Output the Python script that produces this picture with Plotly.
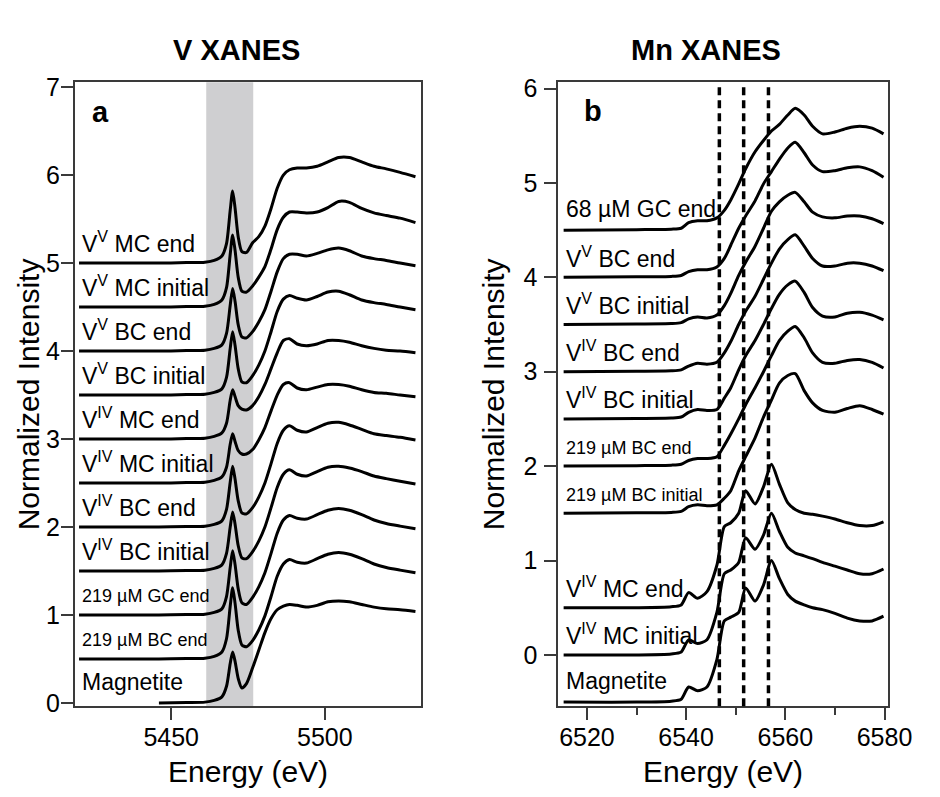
import plotly.graph_objects as go

# ---------------- Panel a : V XANES ----------------
energy_a = [5420, 5446, 5455, 5461, 5464, 5466.5, 5468, 5469.2, 5470, 5470.8, 5471.8,
            5473, 5474.5, 5476.5, 5478.5, 5480.5, 5482.5, 5484.5, 5486.5, 5488.5, 5491,
            5494, 5497.5, 5501, 5504.5, 5508, 5512, 5516, 5520, 5524.5, 5529.5]

labels_a = ["V<sup>V</sup> MC end", "V<sup>V</sup> MC initial", "V<sup>V</sup> BC end",
            "V<sup>V</sup> BC initial", "V<sup>IV</sup> MC end", "V<sup>IV</sup> MC initial",
            "V<sup>IV</sup> BC end", "V<sup>IV</sup> BC initial", "219 µM GC end",
            "219 µM BC end", "Magnetite"]
offsets_a = [5.0, 4.5, 4.0, 3.5, 3.0, 2.5, 2.0, 1.5, 1.0, 0.5, 0.0]
small_a = [False, False, False, False, False, False, False, False, True, True, False]

vv_mc_end = [0, 0, 0.005, 0.01, 0.03, 0.08, 0.22, 0.60, 0.82, 0.62, 0.30, 0.13, 0.12, 0.23, 0.30,
             0.42, 0.62, 0.85, 1.00, 1.06, 1.08, 1.08, 1.10, 1.15, 1.20, 1.20, 1.15, 1.10, 1.07, 1.03, 0.98]
vv_mc_initial = [0, 0, 0.005, 0.01, 0.03, 0.08, 0.22, 0.60, 0.82, 0.64, 0.34, 0.18, 0.17, 0.24, 0.34,
                 0.46, 0.66, 0.88, 1.02, 1.08, 1.08, 1.07, 1.08, 1.13, 1.20, 1.19, 1.12, 1.07, 1.04, 1.01, 0.96]
vv_bc_end = [0, 0, 0.005, 0.01, 0.03, 0.07, 0.20, 0.52, 0.71, 0.56, 0.30, 0.16, 0.15, 0.22, 0.33,
             0.47, 0.68, 0.90, 1.05, 1.10, 1.10, 1.08, 1.11, 1.15, 1.17, 1.14, 1.08, 1.05, 1.03, 1.00, 0.97]
vv_bc_initial = [0, 0, 0.005, 0.01, 0.03, 0.07, 0.20, 0.53, 0.72, 0.56, 0.30, 0.15, 0.14, 0.22, 0.34,
                 0.50, 0.72, 0.95, 1.09, 1.13, 1.10, 1.08, 1.12, 1.17, 1.18, 1.14, 1.08, 1.05, 1.03, 1.00, 0.97]
viv_mc_end = [0, 0, 0.005, 0.01, 0.03, 0.07, 0.18, 0.44, 0.56, 0.48, 0.38, 0.34, 0.33, 0.38, 0.48,
              0.62, 0.80, 0.98, 1.12, 1.14, 1.08, 1.06, 1.08, 1.12, 1.12, 1.10, 1.06, 1.03, 1.01, 1.00, 0.98]
viv_mc_initial = [0, 0, 0.005, 0.01, 0.03, 0.07, 0.18, 0.44, 0.56, 0.47, 0.37, 0.33, 0.33, 0.38, 0.49,
                  0.63, 0.82, 1.00, 1.12, 1.14, 1.08, 1.06, 1.09, 1.12, 1.12, 1.10, 1.06, 1.03, 1.02, 1.00, 0.98]
viv_bc_end = [0, 0, 0.005, 0.01, 0.03, 0.07, 0.20, 0.51, 0.69, 0.54, 0.30, 0.16, 0.15, 0.22, 0.34,
              0.50, 0.72, 0.95, 1.10, 1.15, 1.10, 1.08, 1.13, 1.18, 1.19, 1.16, 1.11, 1.06, 1.04, 1.02, 0.99]
viv_bc_initial = [0, 0, 0.005, 0.01, 0.03, 0.07, 0.20, 0.50, 0.67, 0.53, 0.29, 0.15, 0.14, 0.22, 0.34,
                  0.50, 0.72, 0.95, 1.10, 1.15, 1.10, 1.08, 1.13, 1.18, 1.19, 1.17, 1.13, 1.08, 1.05, 1.02, 0.99]
gc219_end = [0, 0, 0.005, 0.01, 0.03, 0.07, 0.21, 0.54, 0.73, 0.57, 0.30, 0.14, 0.12, 0.20, 0.32,
             0.48, 0.70, 0.93, 1.08, 1.13, 1.10, 1.09, 1.14, 1.19, 1.21, 1.19, 1.14, 1.08, 1.04, 1.01, 0.98]
bc219_end = [0, 0, 0.005, 0.01, 0.03, 0.08, 0.23, 0.60, 0.81, 0.63, 0.33, 0.16, 0.14, 0.21, 0.33,
             0.49, 0.71, 0.94, 1.08, 1.13, 1.10, 1.09, 1.14, 1.19, 1.21, 1.19, 1.14, 1.08, 1.04, 1.01, 0.98]
magnetite_a = [None, 0, 0.005, 0.01, 0.03, 0.07, 0.19, 0.45, 0.58, 0.47, 0.28, 0.17, 0.22, 0.40, 0.60,
               0.80, 0.96, 1.06, 1.10, 1.12, 1.11, 1.09, 1.11, 1.15, 1.16, 1.15, 1.12, 1.09, 1.07, 1.06, 1.04]
series_a = [vv_mc_end, vv_mc_initial, vv_bc_end, vv_bc_initial, viv_mc_end, viv_mc_initial,
            viv_bc_end, viv_bc_initial, gc219_end, bc219_end, magnetite_a]
band_a = [5461.4, 5476.7]

# ---------------- Panel b : Mn XANES ----------------
energy_b = [6515.3, 6530, 6537, 6539, 6540.5, 6542.3, 6544.2, 6546.2, 6547.7, 6549, 6550.6, 6552,
            6553.9, 6555.6, 6557.2, 6558.8, 6560.5, 6562, 6563.8, 6565.5, 6567.5, 6570, 6572.5,
            6575, 6577.5, 6579.8]
labels_b = ["68 µM GC end", "V<sup>V</sup> BC end", "V<sup>V</sup> BC initial", "V<sup>IV</sup> BC end",
            "V<sup>IV</sup> BC initial", "219 µM BC end", "219 µM BC initial", "V<sup>IV</sup> MC end",
            "V<sup>IV</sup> MC initial", "Magnetite"]
offsets_b = [4.5, 4.0, 3.5, 3.0, 2.5, 2.0, 1.5, 0.5, 0.0, -0.5]
small_b = [False, False, False, False, False, True, True, False, False, False]

gc68_end = [0, 0.005, 0.01, 0.02, 0.08, 0.10, 0.10, 0.13, 0.21, 0.32, 0.49, 0.65, 0.83, 0.95, 1.05,
            1.12, 1.22, 1.29, 1.22, 1.10, 1.02, 1.04, 1.08, 1.10, 1.08, 1.02]
b_vv_bc_end = [0, 0.005, 0.01, 0.02, 0.06, 0.08, 0.08, 0.11, 0.20, 0.34, 0.52, 0.65, 0.81, 0.99, 1.12,
               1.25, 1.37, 1.43, 1.32, 1.19, 1.12, 1.13, 1.16, 1.17, 1.13, 1.06]
b_vv_bc_initial = [0, 0.005, 0.01, 0.02, 0.06, 0.08, 0.07, 0.10, 0.20, 0.33, 0.52, 0.66, 0.83, 1.02, 1.20,
                   1.30, 1.37, 1.40, 1.30, 1.19, 1.14, 1.13, 1.15, 1.15, 1.12, 1.07]
b_viv_bc_end = [0, 0.005, 0.01, 0.02, 0.06, 0.09, 0.08, 0.10, 0.20, 0.32, 0.50, 0.64, 0.80, 0.98, 1.15,
                1.30, 1.40, 1.45, 1.33, 1.20, 1.12, 1.12, 1.15, 1.15, 1.12, 1.07]
b_viv_bc_initial = [0, 0.005, 0.01, 0.02, 0.07, 0.10, 0.09, 0.10, 0.22, 0.33, 0.52, 0.67, 0.83, 1.00, 1.17,
                    1.32, 1.42, 1.46, 1.34, 1.18, 1.09, 1.08, 1.12, 1.13, 1.10, 1.05]
b_bc219_end = [0, 0.005, 0.01, 0.02, 0.06, 0.08, 0.08, 0.10, 0.22, 0.34, 0.50, 0.65, 0.83, 1.00, 1.17,
               1.33, 1.43, 1.48, 1.36, 1.20, 1.10, 1.09, 1.12, 1.13, 1.10, 1.04]
b_bc219_initial = [0, 0.005, 0.01, 0.02, 0.07, 0.09, 0.08, 0.09, 0.16, 0.24, 0.45, 0.60, 0.80, 1.02, 1.20,
                   1.38, 1.46, 1.48, 1.30, 1.17, 1.09, 1.07, 1.11, 1.14, 1.10, 1.05]
b_viv_mc_end = [0, 0, 0.01, 0.03, 0.16, 0.10, 0.17, 0.45, 0.86, 0.90, 1.00, 1.24, 1.10, 1.28, 1.52,
                1.31, 1.11, 1.04, 1.00, 0.99, 0.97, 0.94, 0.90, 0.87, 0.87, 0.91]
b_viv_mc_initial = [0, 0, 0.01, 0.03, 0.16, 0.12, 0.16, 0.45, 0.86, 0.90, 0.98, 1.24, 1.12, 1.27, 1.50,
                    1.31, 1.14, 1.08, 1.05, 1.02, 0.98, 0.94, 0.90, 0.86, 0.86, 0.91]
b_magnetite = [0, 0, 0.01, 0.03, 0.16, 0.12, 0.16, 0.45, 0.86, 0.90, 0.95, 1.21, 1.07, 1.24, 1.50,
               1.31, 1.14, 1.07, 1.03, 1.00, 0.98, 0.94, 0.89, 0.86, 0.86, 0.91]
series_b = [gc68_end, b_vv_bc_end, b_vv_bc_initial, b_viv_bc_end, b_viv_bc_initial, b_bc219_end,
            b_bc219_initial, b_viv_mc_end, b_viv_mc_initial, b_magnetite]
dashed_b = [6546.7, 6551.6, 6556.6]

# ---------------- Figure ----------------
W, H = 940, 797
FONT = "Liberation Sans, Arial, Helvetica, sans-serif"

def px_x(p):
    return p / W

def px_y(p):
    return (H - p) / H

fig = go.Figure()

for vals, off in zip(series_a, offsets_a):
    fig.add_trace(go.Scatter(
        x=energy_a, y=[None if v is None else v + off for v in vals],
        mode="lines", line=dict(color="black", width=3, shape="spline", smoothing=0.7),
        xaxis="x", yaxis="y", showlegend=False, hoverinfo="skip"))

for vals, off in zip(series_b, offsets_b):
    fig.add_trace(go.Scatter(
        x=energy_b, y=[v + off for v in vals],
        mode="lines", line=dict(color="black", width=3, shape="spline", smoothing=0.7),
        xaxis="x2", yaxis="y2", showlegend=False, hoverinfo="skip"))

# grey band in panel a
fig.add_shape(type="rect", xref="x", yref="y domain", x0=band_a[0], x1=band_a[1], y0=0, y1=1,
              fillcolor="#cfcfd1", line=dict(width=0), layer="below")
# dashed lines in panel b
for xv in dashed_b:
    fig.add_shape(type="line", xref="x2", yref="y2 domain", x0=xv, x1=xv, y0=0, y1=1,
                  line=dict(color="black", width=3.5, dash="8px,5px"), layer="above")

annotations = []
for lab, off, sm in zip(labels_a, offsets_a, small_a):
    annotations.append(dict(x=5420.3, y=off + (0.215 if sm else 0.24), xref="x", yref="y",
                            text=lab, showarrow=False, xanchor="left", yanchor="middle",
                            font=dict(family=FONT, size=18 if sm else 23, color="black")))
for lab, off, sm in zip(labels_b, offsets_b, small_b):
    annotations.append(dict(x=6515.3, y=off + (0.19 if sm else 0.22), xref="x2", yref="y2",
                            text=lab, showarrow=False, xanchor="left", yanchor="middle",
                            font=dict(family=FONT, size=18 if sm else 23, color="black")))

# panel letters
annotations.append(dict(x=px_x(103.5), y=px_y(106), xref="paper", yref="paper", text="<b>a</b>",
                        showarrow=False, xanchor="center", yanchor="middle",
                        font=dict(family=FONT, size=29, color="black")))
annotations.append(dict(x=px_x(608.5), y=px_y(105), xref="paper", yref="paper", text="<b>b</b>",
                        showarrow=False, xanchor="center", yanchor="middle",
                        font=dict(family=FONT, size=29, color="black")))
# titles
annotations.append(dict(x=px_x(243), y=px_y(42), xref="paper", yref="paper", text="<b>V XANES</b>",
                        showarrow=False, xanchor="center", yanchor="middle",
                        font=dict(family=FONT, size=29, color="black")))
annotations.append(dict(x=px_x(724), y=px_y(42), xref="paper", yref="paper", text="<b>Mn XANES</b>",
                        showarrow=False, xanchor="center", yanchor="middle",
                        font=dict(family=FONT, size=29, color="black")))
# axis titles
for xc in (254, 742):
    annotations.append(dict(x=px_x(xc), y=px_y(781), xref="paper", yref="paper", text="Energy (eV)",
                            showarrow=False, xanchor="center", yanchor="middle",
                            font=dict(family=FONT, size=30, color="black")))
for xc in (29, 506):
    annotations.append(dict(x=px_x(xc), y=px_y(394.5), xref="paper", yref="paper",
                            text="Normalized Intensity", textangle=-90,
                            showarrow=False, xanchor="center", yanchor="middle",
                            font=dict(family=FONT, size=30, color="black")))

axis_common = dict(showline=True, linecolor="#3a3a3a", linewidth=1.5, mirror=True,
                   ticks="outside", ticklen=12, tickwidth=1.5, tickcolor="#3a3a3a",
                   showgrid=False, zeroline=False,
                   tickfont=dict(family=FONT, size=25, color="black"))

fig.update_layout(
    width=W, height=H, margin=dict(l=0, r=0, t=0, b=0),
    paper_bgcolor="white", plot_bgcolor="white",
    xaxis=dict(domain=[px_x(76.7), px_x(431.7)], range=[5418.6, 5531.2],
               tickvals=[5450, 5500], anchor="y", ticklabelstandoff=-4, **axis_common),
    yaxis=dict(domain=[px_y(714.3), px_y(75)], range=[-0.037, 7.055],
               tickvals=[0, 1, 2, 3, 4, 5, 6, 7], anchor="x", ticklabelstandoff=-4, **axis_common),
    xaxis2=dict(domain=[px_x(572.7), px_x(911.7)], range=[6514.18, 6580.79],
                tickvals=[6520, 6540, 6560, 6580], anchor="y2", ticklabelstandoff=-4,
                minor=dict(tickvals=[6530, 6550, 6570], ticklen=7, tickwidth=1.5,
                           tickcolor="#3a3a3a", ticks="outside"),
                **axis_common),
    yaxis2=dict(domain=[px_y(714.3), px_y(75)], range=[-0.544, 6.067],
                tickvals=[0, 1, 2, 3, 4, 5, 6], anchor="x2", ticklabelstandoff=2, **axis_common),
    annotations=annotations,
)

fig.write_html("out.html")
